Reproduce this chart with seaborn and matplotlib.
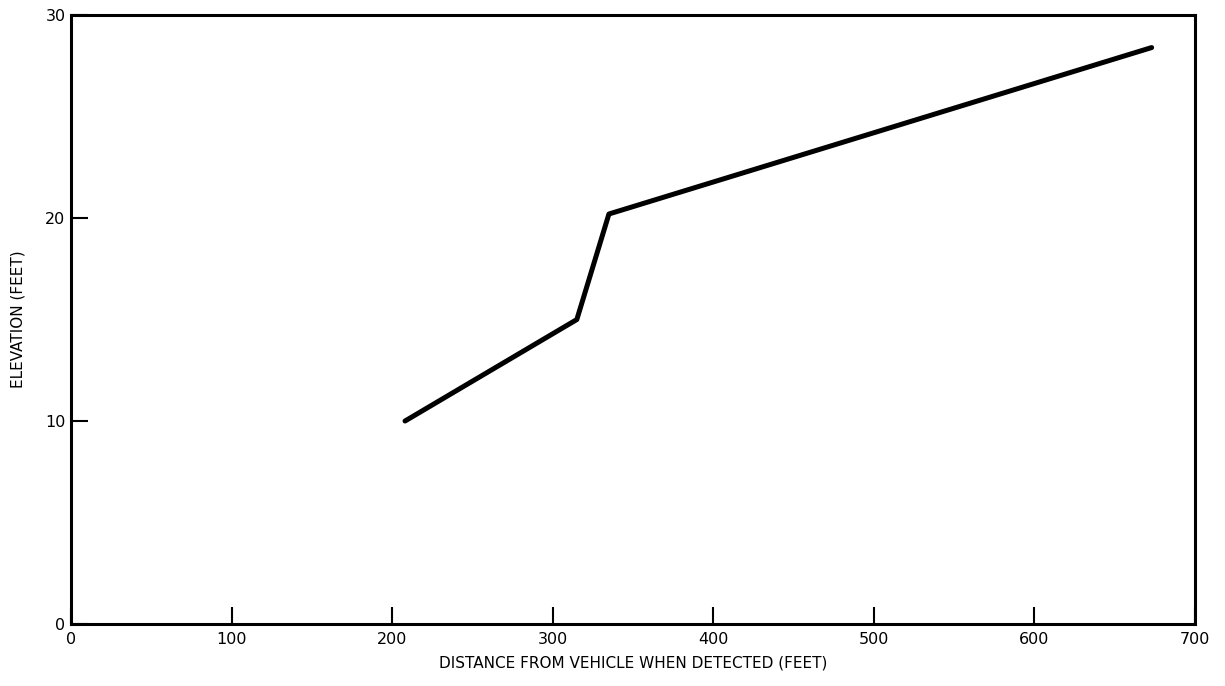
import matplotlib
matplotlib.use("Agg")
import matplotlib.pyplot as plt
import seaborn as sns
import pandas as pd

distance = [208, 315, 335, 673]
elevation = [10.0, 15.0, 20.2, 28.4]
x_ticks = [0, 100, 200, 300, 400, 500, 600, 700]
y_ticks = [0, 10, 20, 30]

sns.set_theme(style="white")
plt.rcParams['font.family'] = ['DejaVu Sans']
plt.rcParams['text.color'] = 'black'
plt.rcParams['axes.labelcolor'] = 'black'

df = pd.DataFrame({"distance": distance, "elevation": elevation})

fig = plt.figure(figsize=(12.25, 6.86), dpi=100)
ax = fig.add_axes([0.058, 0.0904, 0.9175, 0.8876])
sns.lineplot(data=df, x="distance", y="elevation", ax=ax, color="black",
             linewidth=3.6, solid_capstyle="round", sort=False)
ax.set_xlim(0, 700)
ax.set_ylim(0, 30)
ax.set_xticks(x_ticks)
ax.set_yticks(y_ticks)
for s in ax.spines.values():
    s.set_visible(True)
    s.set_color("black")
    s.set_linewidth(2.2)
ax.tick_params(direction="in", length=12, width=1.5, colors="black",
               labelsize=11.5)
ax.tick_params(axis="x", pad=6)
ax.tick_params(axis="y", pad=4)
ax.xaxis.set_ticks_position("bottom")
ax.yaxis.set_ticks_position("left")
ax.set_xlabel("DISTANCE FROM VEHICLE WHEN DETECTED (FEET)", fontsize=11, labelpad=6, color="black")
ax.set_ylabel("ELEVATION (FEET)", fontsize=11, labelpad=14, color="black")
fig.savefig("out.png", dpi=100)
